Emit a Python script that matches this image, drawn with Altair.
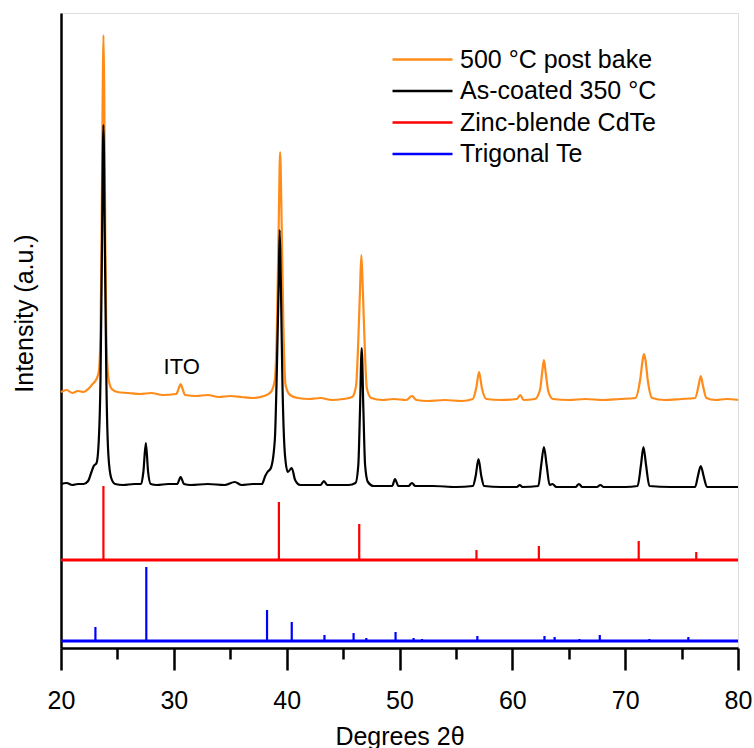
import altair as alt
import pandas as pd

# ---------------- data ----------------
series_names = ["500 °C post bake", "As-coated 350 °C", "Zinc-blende CdTe", "Trigonal Te"]
series_colors = ["#ff8c1a", "#000000", "#ff0000", "#0000ff"]

x_domain = [20, 80]
y_domain = [0, 635]
x_ticks = [20, 25, 30, 35, 40, 45, 50, 55, 60, 65, 70, 75, 80]

# 500 °C post bake (offset trace)
orange_x = [20.0, 20.5, 21.0, 21.5, 22.0, 22.5, 22.8, 23.1, 23.35, 23.5, 23.6, 23.7, 23.76, 23.83,
            23.92, 24.02, 24.2, 24.5, 25.0, 26.0, 27.0, 28.0, 29.0, 30.2, 30.45, 30.6, 30.75, 31.0,
            32.0, 33.0, 34.0, 35.0, 36.0, 37.0, 38.0, 38.6, 38.95, 39.15, 39.3, 39.42, 39.55, 39.7,
            39.9, 40.3, 41.0, 42.0, 43.0, 44.0, 45.0, 45.8, 46.15, 46.35, 46.5, 46.62, 46.75, 46.9,
            47.1, 47.5, 48.5, 49.5, 50.6, 51.1, 51.5, 52.5, 54.0, 55.5, 56.5, 56.8, 57.05, 57.3,
            57.7, 59.0, 60.4, 60.7, 61.0, 62.0, 62.45, 62.65, 62.8, 62.95, 63.2, 63.6, 65.0, 66.5,
            68.0, 69.5, 70.9, 71.35, 71.55, 71.67, 71.8, 72.0, 72.4, 73.5, 75.0, 76.2, 76.5, 76.7,
            76.9, 77.2, 78.0, 79.0, 80.0]
orange_y = [256, 258, 255, 257, 256, 260, 264, 268, 276, 313, 418, 558, 613, 558,
            418, 313, 270, 259, 256, 255, 254, 255, 253, 254, 260, 264, 260, 253,
            252, 253, 251, 252, 251, 250, 252, 256, 268, 328, 428, 496, 428, 328,
            263, 253, 250, 249, 250, 248, 249, 251, 262, 308, 358, 393, 358, 308,
            260, 250, 248, 249, 248, 252, 248, 247, 248, 247, 249, 260, 276, 260,
            249, 248, 249, 253, 248, 249, 258, 276, 288, 276, 256, 249, 248, 249,
            248, 249, 250, 270, 288, 294, 288, 268, 250, 248, 249, 250, 262, 272,
            262, 250, 248, 249, 248]

# As-coated 350 °C
black_x = [20.0, 20.5, 21.0, 21.5, 22.0, 22.4, 22.7, 22.9, 23.15, 23.35, 23.5, 23.62, 23.76, 23.9,
           24.02, 24.2, 24.45, 24.8, 25.5, 26.5, 27.1, 27.3, 27.52, 27.72, 27.95, 28.5, 29.5, 30.3,
           30.6, 30.9, 31.5, 33.0, 34.5, 35.4, 36.0, 37.0, 37.8, 38.1, 38.3, 38.6, 38.95, 39.15,
           39.3, 39.38, 39.48, 39.62, 39.85, 40.1, 40.45, 40.75, 41.2, 42.5, 43.0, 43.3, 43.6, 44.5,
           45.5, 46.1, 46.35, 46.5, 46.65, 46.8, 46.95, 47.2, 47.7, 48.7, 49.35, 49.6, 49.9, 50.8,
           51.1, 51.4, 53.0, 55.0, 56.5, 56.75, 57.0, 57.25, 57.5, 59.0, 60.4, 60.65, 60.9, 62.3,
           62.55, 62.8, 63.05, 63.3, 63.55, 63.9, 65.6, 65.9, 66.2, 67.5, 67.8, 68.1, 70.0, 71.1,
           71.4, 71.62, 71.85, 72.15, 74.0, 76.2, 76.45, 76.7, 76.95, 77.25, 78.5, 80.0]
black_y = [164, 165, 163, 164, 164, 167, 176, 182, 185, 208, 268, 388, 523, 388,
           268, 193, 170, 164, 163, 164, 164, 176, 205, 176, 164, 163, 164, 164,
           171, 164, 163, 164, 163, 166, 163, 164, 164, 172, 176, 180, 208, 288,
           368, 418, 368, 268, 193, 176, 180, 168, 163, 163, 163, 167, 163, 163,
           163, 165, 183, 238, 300, 238, 183, 166, 162, 162, 162, 169, 162, 162,
           165, 162, 162, 161, 162, 172, 189, 172, 162, 161, 161, 163, 161, 162,
           182, 201, 182, 163, 164, 161, 161, 164, 161, 161, 163, 161, 161, 162,
           183, 201, 183, 162, 161, 161, 172, 182, 172, 161, 161, 161]

# Zinc-blende CdTe reference pattern
red_base = 88
red_pos = [23.76, 39.31, 46.43, 56.82, 62.35, 71.2, 76.3]
red_top = [162, 146, 124, 98, 102, 107, 96]

# Trigonal Te reference pattern
blue_base = 7
blue_pos = [23.05, 27.56, 38.26, 40.45, 43.35, 45.93, 47.06, 49.65, 51.25, 52.0, 56.9, 62.85,
            63.75, 65.95, 67.75, 72.15, 73.6, 75.6, 77.3]
blue_top = [21, 81, 38, 26, 13, 15, 10, 16, 10, 9, 12, 12, 11, 9, 13, 9, 8, 11, 8]

ito_label = ["ITO"]
ito_x = [30.7]
ito_y = [281]

# ---------------- tables ----------------
curves = pd.concat([
    pd.DataFrame({"x": orange_x, "y": orange_y, "series": series_names[0], "order": 0}),
    pd.DataFrame({"x": black_x, "y": black_y, "series": series_names[1], "order": 1}),
])
sticks = pd.concat([
    pd.DataFrame({"x": red_pos, "y": red_base, "y2": red_top, "series": series_names[2]}),
    pd.DataFrame({"x": blue_pos, "y": blue_base, "y2": blue_top, "series": series_names[3]}),
])
bases = pd.DataFrame({"x": [x_domain[0]] * 2, "x2": [x_domain[1]] * 2,
                      "y": [red_base, blue_base], "series": series_names[2:]})
ito = pd.DataFrame({"x": ito_x, "y": ito_y, "t": ito_label})

FONT = "Liberation Sans"

xscale = alt.Scale(domain=x_domain, nice=False, zero=False)
yscale = alt.Scale(domain=y_domain, nice=False, zero=False)
color = alt.Color(
    "series:N",
    scale=alt.Scale(domain=series_names, range=series_colors),
    legend=alt.Legend(
        title=None, orient="none", legendX=345, legendY=30,
        symbolType="M-2,0H2", symbolSize=900, symbolStrokeWidth=2.5,
        labelFont=FONT, labelFontSize=25, labelColor="black", labelLimit=400,
        labelOffset=21, rowPadding=1.5, padding=0,
    ),
)

xaxis = alt.Axis(
    title="Degrees 2θ", values=x_ticks, grid=False,
    labelExpr="datum.value % 10 === 0 ? datum.label : ''",
    tickSize={"condition": {"test": "datum.value % 10 === 0", "value": 22}, "value": 11},
    tickWidth=2.5, tickColor="black", domainWidth=2.5, domainColor="black",
    labelFont=FONT, labelFontSize=25, labelColor="black", labelBaseline="alphabetic",
    labelPadding=38, labelFlush=False,
    titleFont=FONT, titleFontSize=25, titleFontWeight="normal", titleColor="black",
    titleBaseline="alphabetic", titleY=96,
)
yaxis = alt.Axis(
    title="Intensity (a.u.)", labels=False, ticks=False, grid=False,
    domainWidth=2.5, domainColor="black",
    titleFont=FONT, titleFontSize=25, titleFontWeight="normal", titleColor="black",
    titleX=-37, titleY=300, titleBaseline="middle", titleAlign="center", titleAngle=-90,
)

base_rules = alt.Chart(bases).mark_rule(strokeWidth=3).encode(
    x=alt.X("x:Q", scale=xscale, axis=xaxis), x2="x2:Q",
    y=alt.Y("y:Q", scale=yscale, axis=yaxis), color=color,
)
stick_rules = alt.Chart(sticks).mark_rule(strokeWidth=2.2).encode(
    x=alt.X("x:Q", scale=xscale), y=alt.Y("y:Q", scale=yscale), y2="y2:Q", color=color,
)
lines = alt.Chart(curves).mark_line(strokeWidth=2.2, interpolate="monotone").encode(
    x=alt.X("x:Q", scale=xscale), y=alt.Y("y:Q", scale=yscale), color=color,
    detail="order:N", order=alt.Order("x:Q"),
)
ito_text = alt.Chart(ito).mark_text(font=FONT, fontSize=22, color="black").encode(
    x=alt.X("x:Q", scale=xscale), y=alt.Y("y:Q", scale=yscale), text="t:N",
)

chart = alt.layer(base_rules, stick_rules, lines, ito_text).properties(
    width=677, height=635,
    autosize=alt.AutoSizeParams(type="none"),
    padding={"left": 61, "top": 13, "right": 16, "bottom": 100},
).configure_view(stroke=None).configure(background="white")

chart.save("out.html", embed_options={"renderer": "svg", "actions": False})
